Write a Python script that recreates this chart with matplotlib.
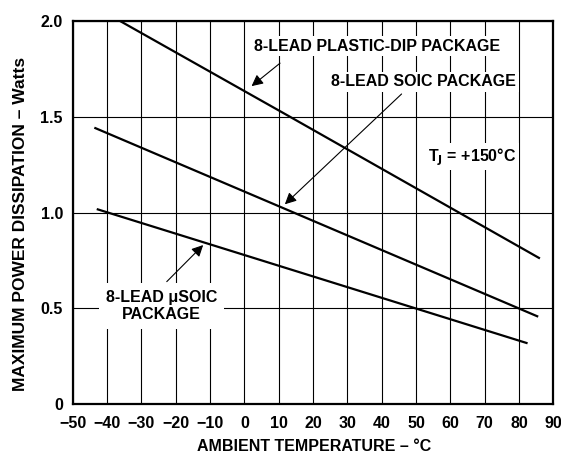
import matplotlib.pyplot as plt

plt.rcParams["font.family"] = ["Liberation Sans", "DejaVu Sans"]
plt.rcParams["font.weight"] = "bold"

# values (ambient temp in C, power in W)
dip_temp = [-36.2, 12.3, 86.1]
dip_power = [2.0, 1.51, 0.76]
soic_temp = [-43.7, 85.6]
soic_power = [1.443, 0.456]
usoic_temp = [-43.0, 0.0, 82.5]
usoic_power = [1.018, 0.778, 0.317]

x_ticks = list(range(-50, 91, 10))
y_ticks = [0, 0.5, 1.0, 1.5, 2.0]
y_tick_labels = ["0", "0.5", "1.0", "1.5", "2.0"]

fs = 11.5

fig = plt.figure(figsize=(5.61, 4.55), dpi=100)
ax = fig.add_axes([0.1296, 0.1121, 0.8567, 0.8417])

for t, p in [(dip_temp, dip_power), (soic_temp, soic_power), (usoic_temp, usoic_power)]:
    ax.plot(t, p, color="black", lw=1.6, solid_capstyle="butt", zorder=2)

ax.set_xlim(-50, 90)
ax.set_ylim(0, 2.0)
ax.set_xticks(x_ticks)
ax.set_yticks(y_ticks, y_tick_labels)
ax.tick_params(length=0, labelsize=fs)
ax.tick_params(axis="x", pad=9)
ax.tick_params(axis="y", pad=7)
ax.grid(True, color="black", lw=0.8)
ax.set_axisbelow(True)
for s in ax.spines.values():
    s.set_linewidth(1.6)

ax.set_xlabel("AMBIENT TEMPERATURE – °C", fontsize=fs, fontweight="bold")
ax.xaxis.set_label_coords(0.502, -0.092)
ax.set_ylabel("MAXIMUM POWER DISSIPATION – Watts", fontsize=12.5, fontweight="bold")
ax.yaxis.set_label_coords(-0.094, 0.47)

box = dict(facecolor="white", edgecolor="none", pad=2)
arrow = dict(arrowstyle="-|>", color="black", lw=0.8, mutation_scale=17, shrinkA=0, shrinkB=0)

ax.text(38.8, 1.869, "8-LEAD PLASTIC-DIP PACKAGE", fontsize=fs, ha="center", va="center", bbox=box, zorder=3)
ax.annotate("", xy=(2.1, 1.66), xytext=(10.4, 1.78), arrowprops=arrow, zorder=3)

ax.text(52.3, 1.683, "8-LEAD SOIC PACKAGE", fontsize=fs, ha="center", va="center", bbox=box, zorder=3)
ax.annotate("", xy=(11.8, 1.043), xytext=(45.8, 1.619), arrowprops=arrow, zorder=3)

ax.text(53.5, 1.291, r"T$_\mathbf{J}$ = +150°C", fontsize=fs, ha="left", va="center", bbox=box, zorder=3)

ax.text(-24.1, 0.512, "8-LEAD μSOIC\nPACKAGE", fontsize=fs, ha="center", va="center",
        linespacing=1.15, bbox=dict(facecolor="white", edgecolor="none", pad=5), zorder=3)
ax.annotate("", xy=(-12.0, 0.83), xytext=(-22.6, 0.639), arrowprops=arrow, zorder=3)

fig.savefig("out.png", dpi=100)
